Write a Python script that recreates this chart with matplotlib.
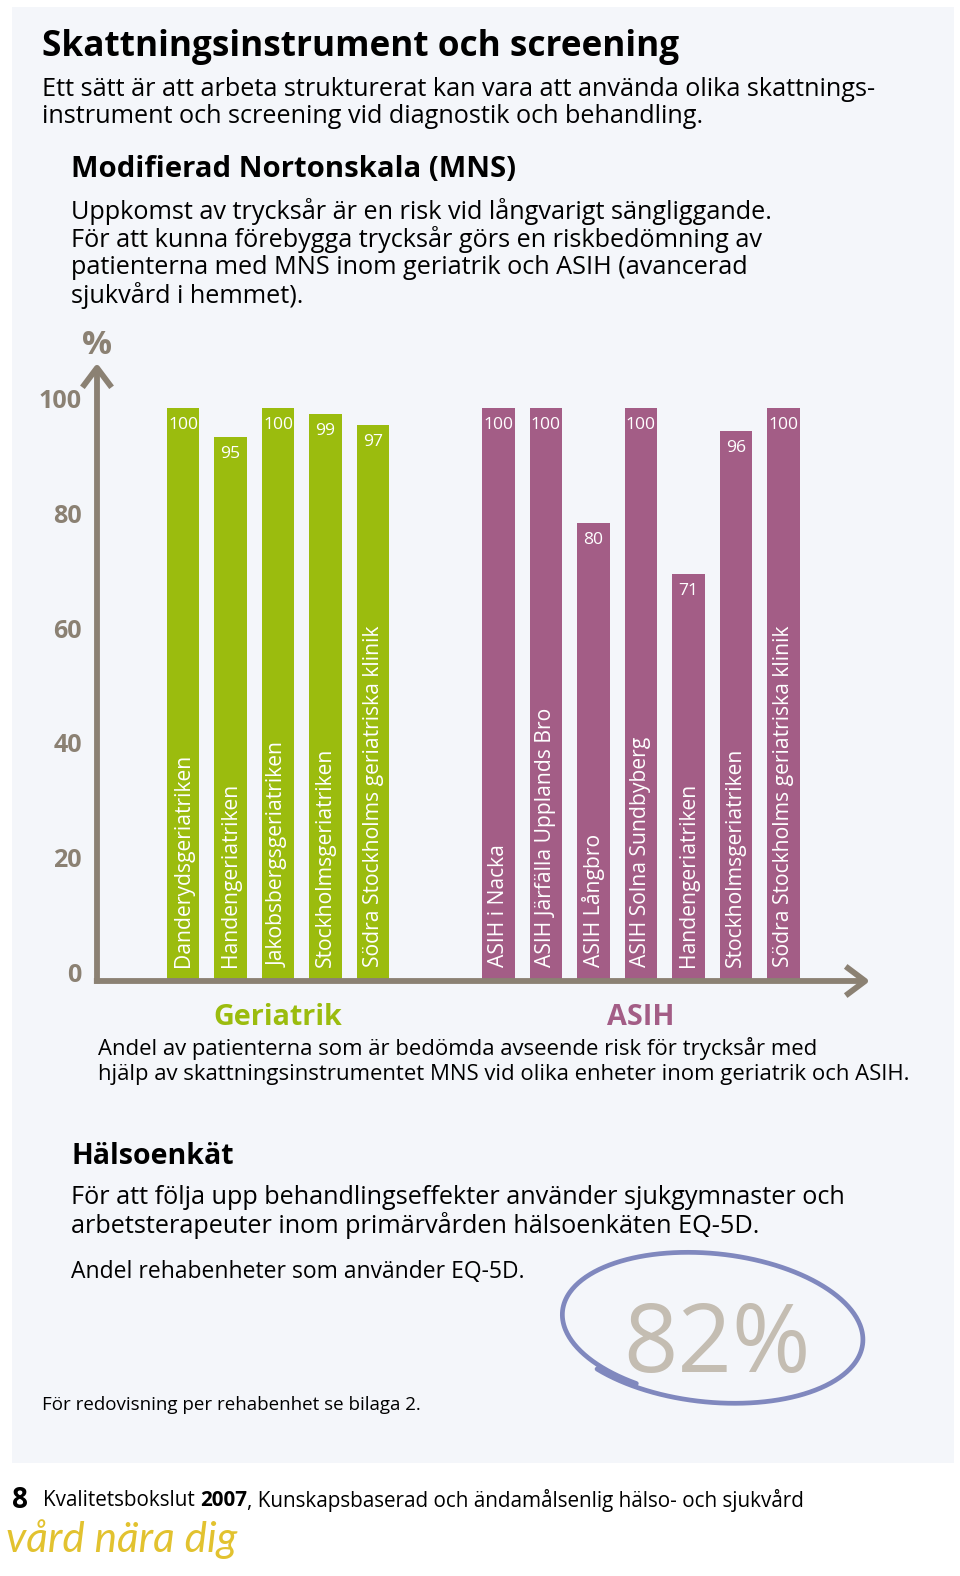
import numpy as np
import matplotlib
matplotlib.use('Agg')
import matplotlib.pyplot as plt
from matplotlib.patches import Rectangle
import matplotlib.transforms as mtransforms

plt.rcParams['font.family'] = ['Open Sans', 'DejaVu Sans']

# ---------------- data ----------------
geriatrik_units = ["Danderydsgeriatriken", "Handengeriatriken", "Jakobsbergsgeriatriken",
                   "Stockholmsgeriatriken", "Södra Stockholms geriatriska klinik"]
geriatrik_values = [100, 95, 100, 99, 97]
asih_units = ["ASIH i Nacka", "ASIH Järfälla Upplands Bro", "ASIH Långbro",
              "ASIH Solna Sundbyberg", "Handengeriatriken", "Stockholmsgeriatriken",
              "Södra Stockholms geriatriska klinik"]
asih_values = [100, 100, 80, 100, 71, 96, 100]
y_ticks = [0, 20, 40, 60, 80, 100]
group_names = ["Geriatrik", "ASIH"]
eq5d_share = 82

# ---------------- style ----------------
GREEN = '#9BBC0E'
PURPLE = '#A35D86'
AXC = '#8B8173'
PANEL = '#F4F6FA'
BIG_GREY = '#C4BDB2'
RING = '#8088BE'
YELLOW = '#E2C22F'

W, H = 960, 1576
fig = plt.figure(figsize=(W / 100, H / 100), dpi=100)
fig.patch.set_facecolor('white')
bg = fig.add_axes([0, 0, 1, 1])
bg.set_xlim(0, W)
bg.set_ylim(H, 0)
bg.axis('off')
bg.add_patch(Rectangle((12, 7), 942, 1456, facecolor=PANEL, edgecolor='none', zorder=0))
renderer = fig.canvas.get_renderer()

DY = 3.5  # visual baseline correction for va='center'


def width_px(s, size, **kw):
    t = bg.text(0, 0, s, fontsize=size, **kw)
    w = t.get_window_extent(renderer=renderer).width
    t.remove()
    return w


def fit(s, target, **kw):
    return 20 * target / width_px(s, 20, **kw)


def put(x, y, s, size, **kw):
    kw.setdefault('va', 'center')
    kw.setdefault('ha', 'left')
    kw.setdefault('color', 'black')
    return bg.text(x, y + DY, s, fontsize=size, **kw)


# ---------------- header texts ----------------
fs = fit("Skattningsinstrument och screening", 636, weight='bold')
put(42, 43, "Skattningsinstrument och screening", fs, weight='bold')

sub = ["Ett sätt är att arbeta strukturerat kan vara att använda olika skattnings-",
       "instrument och screening vid diagnostik och behandling."]
fs = fit(sub[0], 832)
put(42, 86, sub[0], fs)
put(42, 113, sub[1], fs)

fs = fit("Modifierad Nortonskala (MNS)", 445, weight='bold')
put(71, 166, "Modifierad Nortonskala (MNS)", fs, weight='bold')

para = ["Uppkomst av trycksår är en risk vid långvarigt sängliggande.",
        "För att kunna förebygga trycksår görs en riskbedömning av",
        "patienterna med MNS inom geriatrik och ASIH (avancerad",
        "sjukvård i hemmet)."]
fs = fit(para[0], 701)
for i, line in enumerate(para):
    put(71, 208 + 28 * i, line, fs)

# ---------------- chart ----------------
x0_px = 183.0
px_unit_x = 47.5
ax_left_px, ax_right_px = 97, 870
ax_top_px, ax_bot_px = 363, 981
px_unit_y = (981 - 408) / 100.0

ax = fig.add_axes([ax_left_px / W, 1 - ax_bot_px / H,
                   (ax_right_px - ax_left_px) / W, (ax_bot_px - ax_top_px) / H])
ax.set_xlim((ax_left_px - x0_px) / px_unit_x, (ax_right_px - x0_px) / px_unit_x)
ax.set_ylim(0, (ax_bot_px - ax_top_px) / px_unit_y)
ax.patch.set_alpha(0)
for sp in ax.spines.values():
    sp.set_visible(False)
ax.set_xticks([])
ax.set_yticks([])

group_gap = 1.64
xg = np.arange(len(geriatrik_values), dtype=float)
xa = np.arange(len(asih_values), dtype=float) + len(geriatrik_values) + group_gap
bw = 0.68

ax.bar(xg, geriatrik_values, width=bw, color=GREEN, zorder=2)
ax.bar(xa, asih_values, width=bw, color=PURPLE, zorder=2)

cat_fs = fit("Södra Stockholms geriatriska klinik", 342)
val_fs = fit("100", 30)
for xs, vals, names in ((xg, geriatrik_values, geriatrik_units), (xa, asih_values, asih_units)):
    for x, v, n in zip(xs, vals, names):
        ax.annotate(str(v), (x, v), xytext=(0, -6.5), textcoords='offset points',
                    ha='center', va='top', color='white', fontsize=val_fs, zorder=4)
        ax.annotate(n, (x, 0), xytext=(0, 10), textcoords='offset points',
                    ha='center', va='bottom', rotation=90, color='white',
                    fontsize=cat_fs, zorder=4)

# axes with arrow heads
arrow = dict(arrowstyle='->,head_length=1.0,head_width=0.75', lw=4.2, color=AXC,
             mutation_scale=14, shrinkA=0, shrinkB=0, capstyle='butt')
ax.annotate('', xy=(0, 1), xytext=(0, -0.004), xycoords='axes fraction',
            arrowprops=arrow, annotation_clip=False, zorder=5)
ax.annotate('', xy=(1, 0), xytext=(-0.004, 0), xycoords='axes fraction',
            arrowprops=arrow, annotation_clip=False, zorder=5)

# y tick labels
tick_fs = fit("100", 43, weight='bold')
lab_tr = mtransforms.blended_transform_factory(ax.transAxes, ax.transData) + \
    mtransforms.ScaledTranslation(-15 / 100, 6 / 100, fig.dpi_scale_trans)
for v in y_ticks:
    ax.text(0, v, str(v), transform=lab_tr, ha='right', va='center',
            fontsize=tick_fs, weight='bold', color=AXC)

fs = fit("%", 30, weight='bold')
put(97, 342, "%", fs, weight='bold', color=AXC, ha='center')

# group labels
grp_fs = fit("Geriatrik", 129, weight='bold')
for xs, name, col in ((xg, group_names[0], GREEN), (xa, group_names[1], PURPLE)):
    ax.annotate(name, (xs.mean(), 0), xytext=(0, -26.5), textcoords='offset points',
                ha='center', va='center', fontsize=grp_fs, weight='bold', color=col,
                annotation_clip=False)

cap = ["Andel av patienterna som är bedömda avseende risk för trycksår med",
       "hjälp av skattningsinstrumentet MNS vid olika enheter inom geriatrik och ASIH."]
fs = fit(cap[1], 808)
put(98, 1045, cap[0], fs)
put(98, 1071, cap[1], fs)

# ---------------- Hälsoenkät ----------------
fs = fit("Hälsoenkät", 162, weight='bold')
put(71, 1153, "Hälsoenkät", fs, weight='bold')

p2 = ["För att följa upp behandlingseffekter använder sjukgymnaster och",
      "arbetsterapeuter inom primärvården hälsoenkäten EQ-5D."]
fs = fit(p2[0], 773)
put(71, 1194, p2[0], fs)
put(71, 1222, p2[1], fs)

fs = fit("Andel rehabenheter som använder EQ-5D.", 452)
put(71, 1269, "Andel rehabenheter som använder EQ-5D.", fs)

fs = fit("För redovisning per rehabenhet se bilaga 2.", 379)
put(42, 1401, "För redovisning per rehabenhet se bilaga 2.", fs)

# ring around the big number
cx, cy, a, b, phi = 711, 1327, 152, 74, np.deg2rad(6)
t = np.linspace(2.05, 2.05 + 2 * np.pi + 0.3, 400)
s = np.linspace(0.975, 1.02, t.size)
ex = cx + s * (a * np.cos(t) * np.cos(phi) - b * np.sin(t) * np.sin(phi))
ey = cy + s * (a * np.cos(t) * np.sin(phi) + b * np.sin(t) * np.cos(phi))
bg.plot(ex, ey, color=RING, lw=3.4, solid_capstyle='round', zorder=3)

fs = fit(f"{eq5d_share}%", 187)
put(717, 1344, f"{eq5d_share}%", fs, color=BIG_GREY, ha='center')

# ---------------- footer ----------------
fs = fit("8", 16, weight='bold')
put(12, 1497, "8", fs, weight='bold')
pieces = [("Kvalitetsbokslut ", 'normal'), ("2007", 'bold'),
          (", Kunskapsbaserad och ändamålsenlig hälso- och sjukvård", 'normal')]
total20 = sum(width_px(p, 20, weight=wt) for p, wt in pieces)
ffs = 20 * 761 / total20
xcur = 43
for p, wt in pieces:
    put(xcur, 1497, p, ffs, weight=wt)
    xcur += width_px(p, ffs, weight=wt)

fs = fit("vård nära dig", 230, family='Lato', style='italic')
put(6, 1536, "vård nära dig", fs, family='Lato', style='italic', color=YELLOW)

fig.savefig('out.png', dpi=100, facecolor='white')
